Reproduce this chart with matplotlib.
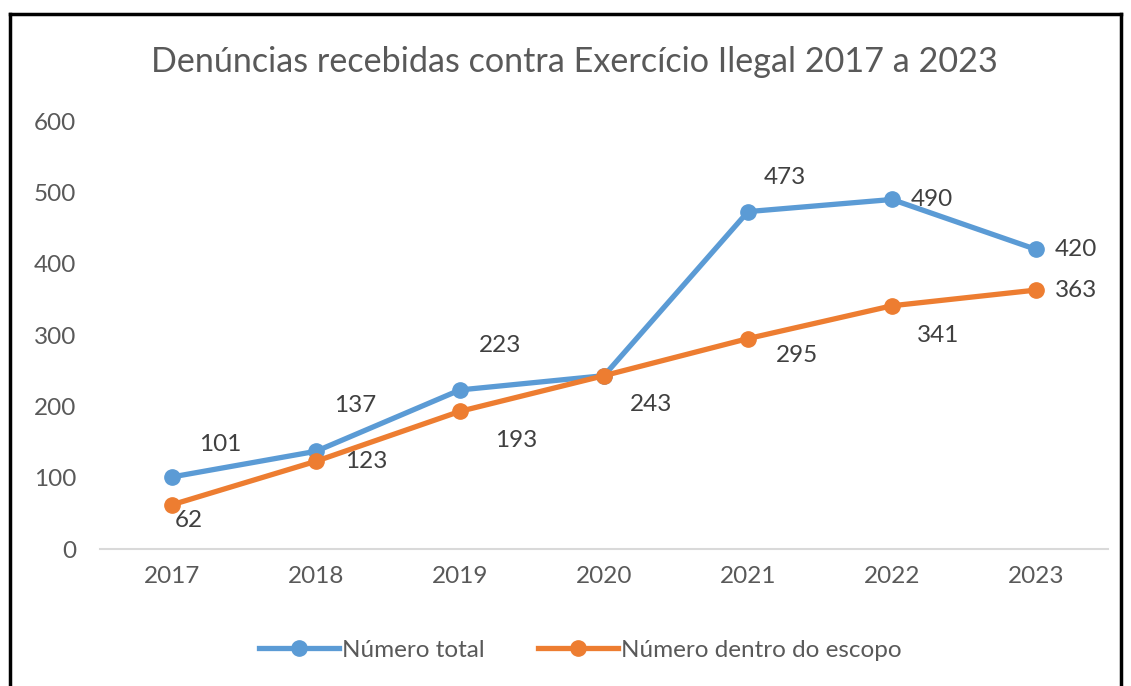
import matplotlib.pyplot as plt
from matplotlib.lines import Line2D

plt.rcParams['font.family'] = ['Lato', 'DejaVu Sans']

anos = ['2017', '2018', '2019', '2020', '2021', '2022', '2023']
total = [101, 137, 223, 243, 473, 490, 420]
escopo = [62, 123, 193, 243, 295, 341, 363]

# offsets of data labels (pixels)
off_total = [(48, 32), (39, 46), (40, 44), (0, 0), (37, 34), (40, 0), (40, 0)]
off_escopo = [(17, -16), (50, 0), (56, -29), (47, -29), (49, -17), (46, -30), (40, 0)]

azul = '#5B9BD5'
laranja = '#ED7D31'
cinza = '#595959'

fig = plt.figure(figsize=(11.31, 6.86), dpi=100)
ax = fig.add_axes([0.0884, 0.1997, 0.8913, 0.6239])

x = range(len(anos))
ax.plot(x, total, color=azul, lw=3.8, marker='o', ms=11, solid_capstyle='round', zorder=3)
ax.plot(x, escopo, color=laranja, lw=3.8, marker='o', ms=11, solid_capstyle='round', zorder=4)

for i in x:
    if off_total[i] != (0, 0):
        ax.annotate(str(total[i]), (i, total[i]), xytext=off_total[i], textcoords='offset pixels',
                    ha='center', va='center', fontsize=17.5, color='#404040')
    ax.annotate(str(escopo[i]), (i, escopo[i]), xytext=off_escopo[i], textcoords='offset pixels',
                ha='center', va='center', fontsize=17.5, color='#404040')

ax.set_xlim(-0.5, len(anos) - 0.5)
ax.set_ylim(0, 600)
ax.set_yticks(range(0, 601, 100))
ax.set_xticks(list(x))
ax.set_xticklabels(anos)
ax.tick_params(axis='both', length=0, labelsize=17.5, colors=cinza)
ax.tick_params(axis='y', pad=17)
ax.tick_params(axis='x', pad=12)
for s in ['top', 'right', 'left']:
    ax.spines[s].set_visible(False)
ax.spines['bottom'].set_color('#D9D9D9')
ax.spines['bottom'].set_linewidth(1.5)

fig.text(0.5075, 0.91, 'Denúncias recebidas contra Exercício Ilegal 2017 a 2023',
         ha='center', va='center', fontsize=24.6, color=cinza)

handles = [Line2D([], [], color=azul, lw=3.8, marker='o', ms=11),
           Line2D([], [], color=laranja, lw=3.8, marker='o', ms=11)]
fig.legend(handles, ['Número total', 'Número dentro do escopo'], loc='center',
           bbox_to_anchor=(0.513, 0.052), ncol=2, frameon=False, fontsize=17.5,
           labelcolor=cinza, handlelength=3.3, handletextpad=0.1, columnspacing=2.2)

# moldura
for xs, ys in [([0.009, 0.009], [0, 0.98]), ([0.009, 0.991], [0.98, 0.98]), ([0.991, 0.991], [0, 0.98])]:
    fig.add_artist(Line2D(xs, ys, color='black', lw=2.5, transform=fig.transFigure))

fig.savefig('out.png', dpi=100, facecolor='white')
